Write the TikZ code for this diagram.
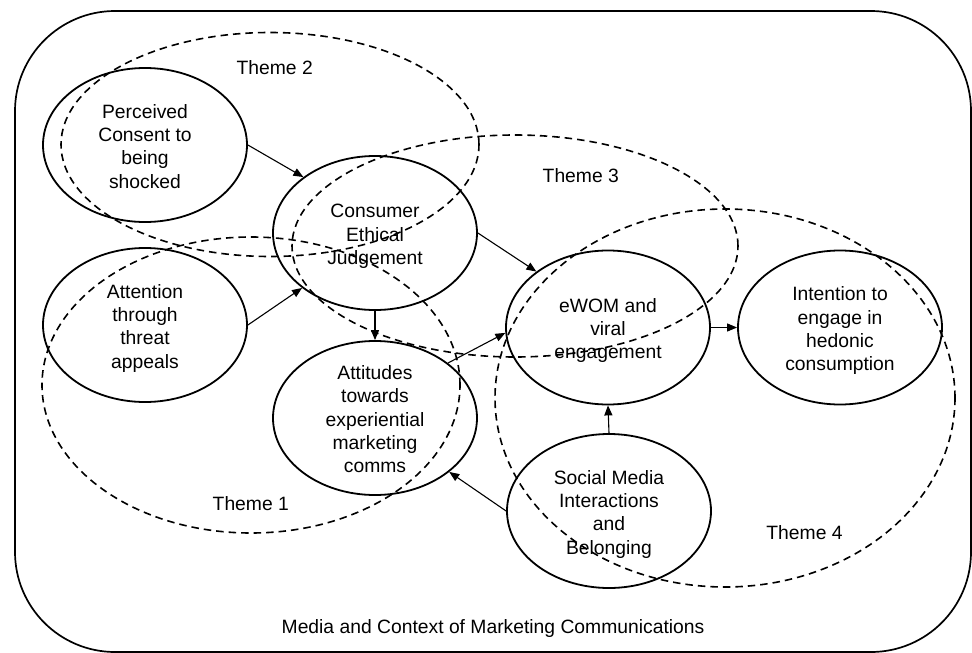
\documentclass[tikz,border=0pt]{standalone}
\usepackage{fontspec}
\setmainfont{Liberation Sans}
\usetikzlibrary{shapes.geometric,arrows.meta}
\newcommand\diagfont{\fontsize{19.3pt}{23.3pt}\selectfont}
\newcommand\topstrut{\rule{0pt}{23.3pt}}
\begin{document}
\begin{tikzpicture}[x=1pt,y=-1pt,
  ell/.style={ellipse,draw,line width=1.8pt,minimum width=204pt,minimum height=154pt,
    inner sep=-10pt,align=center,font=\diagfont},
  theme/.style={draw,line width=1.6pt,dash pattern=on 7.5pt off 5pt},
  arr/.style={-{Triangle[length=10pt,width=8pt]},line width=1.1pt},
  lbl/.style={font=\diagfont,inner sep=0pt}]
\useasboundingbox (0,0) rectangle (972,653);
% frame
\draw[line width=1.7pt,rounded corners=100pt] (15,11) rectangle (971,652);
% themes
\draw[theme] (270,144.5) ellipse [x radius=209pt,y radius=112pt];
\draw[theme] (515,246) ellipse [x radius=223pt,y radius=111pt];
\draw[theme] (251,385) ellipse [x radius=209pt,y radius=148pt];
\draw[theme] (725,398) ellipse [x radius=230pt,y radius=189pt];
% constructs
\node[ell] (perc) at (145,145) {\topstrut Perceived\\Consent to\\being\\\strut shocked};
\node[ell] (cej) at (375,233) {\topstrut Consumer\\Ethical\\\strut Judgement};
\node[ell] (att) at (145,325) {\topstrut Attention\\through\\threat\\\strut appeals};
\node[ell] (atti) at (375,418) {\topstrut Attitudes\\towards\\experiential\\marketing\\\strut comms};
\node[ell] (ewom) at (608,327.5) {\topstrut eWOM and\\viral\\\strut engagement};
\node[ell] (int) at (840,327.5) {\topstrut Intention to\\engage in\\hedonic\\\strut consumption};
\node[ell] (soc) at (609,511) {\topstrut Social Media\\Interactions\\and\\\strut Belonging};
% labels
\node[lbl] (t2) at (274.7,68) {Theme 2};
\node[lbl] (t3) at (580.8,176) {Theme 3};
\node[lbl] (t1) at (250.8,503.3) {Theme 1};
\node[lbl] (t4) at (804.5,532.3) {Theme 4};
\node[lbl] (media) at (493,629) {Media and Context of Marketing Communications};
% arrows
\draw[arr] (perc.east) -- (cej.142.6);
\draw[arr] (att.east) -- (cej.217.4);
\draw[arr] (cej.south) -- (atti.north);
\draw[arr] (cej.east) -- (ewom.142.5);
\draw[arr] (atti.37) -- (ewom.183);
\draw[arr] (ewom.east) -- (int.west);
\draw[arr] (soc.north) -- (ewom.south);
\draw[arr] (soc.west) -- (atti.-36);
\end{tikzpicture}
\end{document}
